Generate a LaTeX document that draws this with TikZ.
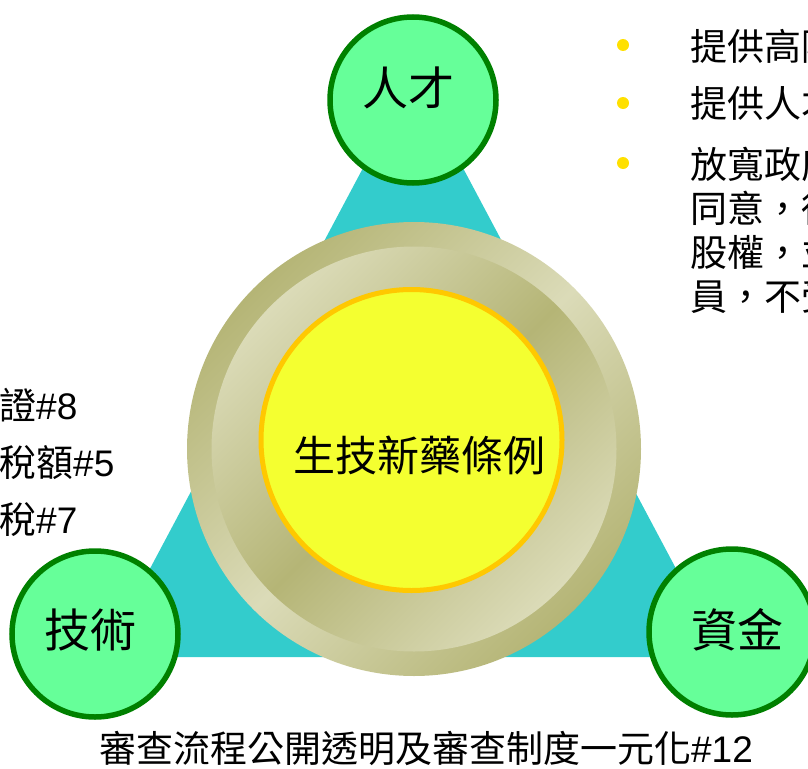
\documentclass[tikz,border=0pt]{standalone}
\usepackage{fontspec}
\setmainfont{Liberation Sans}
\newfontfamily\cjk{Noto Sans CJK TC}
\definecolor{tealfill}{RGB}{51,204,204}
\definecolor{greenfill}{RGB}{102,255,153}
\definecolor{greenline}{RGB}{0,128,0}
\definecolor{olivedark}{RGB}{181,181,118}
\definecolor{olivelight}{RGB}{219,219,184}
\definecolor{corefill}{RGB}{244,255,48}
\definecolor{coreline}{RGB}{255,200,0}
\definecolor{bulletcol}{RGB}{255,224,0}
\begin{document}
\begin{tikzpicture}[x=1pt,y=-1pt,
  greencircle/.style={circle,draw=greenline,fill=greenfill,line width=5.5pt,minimum size=166pt,inner sep=0pt},
  circlelabel/.style={inner sep=0pt,font=\cjk\fontsize{46}{46}\selectfont},
  sidetext/.style={inner sep=0pt,anchor=base west,font=\fontsize{37}{37}\selectfont},
  dot/.style={circle,fill=bulletcol,minimum size=12pt,inner sep=0pt}]
\useasboundingbox (0,0) rectangle (808,768);
% triangle
\coordinate (apex) at (413,74);
\coordinate (bl) at (103,657);
\coordinate (br) at (723,657);
\fill[tealfill] (apex) -- (bl) -- (br) -- cycle;
% rings
\node[circle,minimum size=454pt,inner sep=0pt,top color=olivedark,bottom color=olivedark,middle color=olivelight,shading angle=45] (outerring) at (414,449) {};
\node[circle,minimum size=405pt,inner sep=0pt,top color=olivelight,bottom color=olivelight,middle color=olivedark,shading angle=45] (innerring) at (414,449) {};
\node[circle,minimum size=301pt,inner sep=0pt,fill=corefill,draw=coreline,line width=5pt] (core) at (411.5,440) {};
\node[inner sep=0pt,font=\cjk\fontsize{42}{42}\selectfont] (coretext) at (419,455) {生技新藥條例};
% green circles
\node[greencircle] (talent) at (413,100) {};
\node[greencircle] (tech) at (95,634) {};
\node[greencircle] (fund) at (732,632) {};
\node[circlelabel] (talenttext) at (408,88) {人才};
\node[circlelabel] (techtext) at (90,630) {技術};
\node[circlelabel] (fundtext) at (737,630) {資金};
% right bullets
\node[dot] (b1) at (623,45) {};
\node[dot] (b2) at (623,103) {};
\node[dot] (b3) at (623,163) {};
\node[sidetext] (r1) at (690,60) {\cjk 提供高階};
\node[sidetext] (r2) at (690,117) {\cjk 提供人才};
\node[sidetext] (r3) at (690,178) {\cjk 放寬政府};
\node[sidetext] (r4) at (690,222) {\cjk 同意，得};
\node[sidetext] (r5) at (690,266) {\cjk 股權，並};
\node[sidetext] (r6) at (690,310) {\cjk 員，不受};
% left texts
\node[sidetext] (l1) at (-1,419) {{\cjk 證}\#8};
\node[sidetext] (l2) at (-1,476) {{\cjk 稅額}\#5};
\node[sidetext] (l3) at (-1,533) {{\cjk 稅}\#7};
% bottom text
\node[inner sep=0pt,anchor=base,font=\fontsize{37}{37}\selectfont] (bottom) at (426,762) {{\cjk 審查流程公開透明及審查制度一元化}\#12};
\end{tikzpicture}
\end{document}
